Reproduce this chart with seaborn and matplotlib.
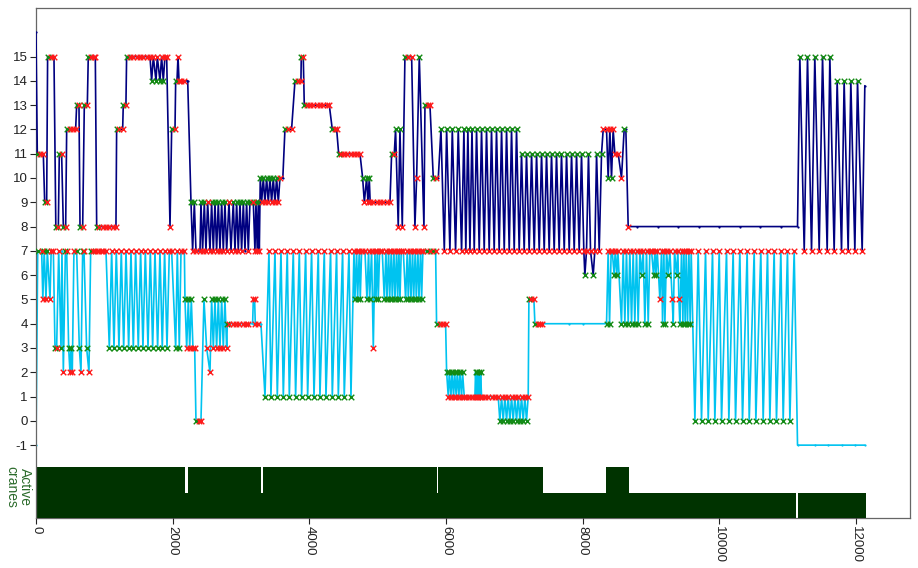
import matplotlib
matplotlib.use("Agg")
import matplotlib.pyplot as plt
import seaborn as sns

# upper crane (navy): time [s], position, marker per point (g = pick-up, r = drop, - = none)
up_t = [0, 19, 60, 107, 127, 156, 170, 215, 263,
        290, 327, 341, 375, 400, 434, 449, 497, 536, 580,
        595, 629, 644, 683, 707, 751, 765, 800, 843, 868,
        888, 926, 975, 1024, 1072, 1121, 1170, 1180, 1219, 1268,
        1277, 1316, 1326, 1375, 1424, 1473, 1521, 1570, 1619, 1668,
        1692, 1717, 1756, 1775, 1814, 1838, 1863, 1887, 1912, 1961,
        1985, 2034, 2044, 2063, 2078, 2093, 2122, 2171, 2220, 2268,
        2292, 2317, 2341, 2400, 2414, 2438, 2463, 2487, 2512, 2546,
        2570, 2595, 2619, 2643, 2668, 2692, 2717, 2741, 2765, 2790,
        2824, 2853, 2887, 2912, 2936, 2960, 2985, 3009, 3034, 3058,
        3082, 3107, 3131, 3180, 3204, 3219, 3238, 3253, 3268, 3282,
        3302, 3326, 3350, 3375, 3399, 3424, 3448, 3472, 3497, 3521,
        3546, 3570, 3612, 3643, 3692, 3740, 3790, 3838, 3877, 3882,
        3911, 3926, 3960, 4009, 4058, 4107, 4155, 4204, 4253, 4292,
        4336, 4375, 4400, 4429, 4458, 4507, 4556, 4604, 4653, 4702,
        4741, 4780, 4805, 4838, 4858, 4877, 4890, 4936, 4984, 5033,
        5082, 5131, 5180, 5204, 5243, 5262, 5301, 5326, 5360, 5399,
        5448, 5497, 5545, 5570, 5609, 5677, 5692, 5731, 5765, 5814,
        5848, 5887, 5926, 5975, 6009, 6057, 6092, 6140, 6179, 6228,
        6262, 6290, 6320, 6350, 6380, 6413, 6447, 6486, 6520, 6559,
        6593, 6632, 6666, 6705, 6739, 6778, 6813, 6852, 6886, 6925,
        6959, 6998, 7032, 7071, 7105, 7144, 7178, 7217, 7252, 7291,
        7325, 7364, 7398, 7437, 7471, 7510, 7544, 7583, 7617, 7656,
        7690, 7730, 7764, 7803, 7837, 7876, 7910, 7949, 7983, 8017,
        8032, 8056, 8085, 8115, 8154, 8178, 8203, 8242, 8276, 8300,
        8349, 8373, 8398, 8422, 8446, 8471, 8520, 8568, 8607, 8632,
        8666, 8800, 9100, 9400, 9700, 10000, 10300, 10600, 10900, 11144,
        11178, 11242, 11290, 11349, 11397, 11461, 11510, 11578, 11617, 11680,
        11724, 11788, 11826, 11885, 11924, 11983, 12022, 12090, 12129]
up_y = [16, 11, 11, 11, 9, 9, 15, 15, 15,
        8, 8, 11, 11, 8, 8, 12, 12, 12, 12,
        13, 13, 8, 8, 13, 13, 15, 15, 15, 15,
        8, 8, 8, 8, 8, 8, 8, 12, 12, 12,
        13, 13, 15, 15, 15, 15, 15, 15, 15, 15,
        14, 15, 14, 15, 14, 15, 14, 15, 15, 8,
        12, 12, 14, 14, 15, 14, 14, 14, 14, 9,
        7, 9, 7, 7, 9, 7, 9, 7, 9, 7,
        9, 7, 9, 7, 9, 7, 9, 7, 9, 7,
        9, 7, 9, 7, 9, 7, 9, 7, 9, 7,
        9, 7, 9, 9, 7, 9, 7, 9, 7, 10,
        9, 10, 9, 10, 9, 10, 9, 10, 9, 10,
        9, 10, 10, 12, 12, 12, 14, 14, 14, 15,
        15, 13, 13, 13, 13, 13, 13, 13, 13, 13,
        12, 12, 12, 11, 11, 11, 11, 11, 11, 11,
        11, 10, 9, 10, 9, 10, 9, 9, 9, 9,
        9, 9, 9, 11, 11, 12, 8, 12, 8, 15,
        15, 15, 8, 10, 15, 8, 13, 13, 13, 10,
        10, 10, 12, 7, 12, 7, 12, 7, 12, 7,
        12, 7, 12, 7, 12, 7, 12, 7, 12, 7,
        12, 7, 12, 7, 12, 7, 12, 7, 12, 7,
        12, 7, 12, 7, 11, 7, 11, 7, 11, 7,
        11, 7, 11, 7, 11, 7, 11, 7, 11, 7,
        11, 7, 11, 7, 11, 7, 11, 7, 11, 7,
        6, 7, 11, 7, 6, 7, 11, 7, 11, 12,
        12, 10, 12, 10, 12, 11, 11, 10, 12, 12,
        8, 8, 8, 8, 8, 8, 8, 8, 8, 8,
        15, 7, 15, 7, 15, 7, 15, 7, 15, 7,
        14, 7, 14, 7, 14, 7, 14, 7, 13.8]
up_m = ("-grrgrgrr" "grgrgrgrrr" "grgrgrgrrr" "grrrrrrgrr" "grgrrrrrrr"
        "grgrgrgrrr" "grg-rrrr-g" "rgrrgrgrrr" "grgrgrgrgr" "rrgrgrgrg-"
        "grgrrgrgrg" "rgrgrgrgrg" "rr-grrgrrg" "rgrrrrrrrr" "grrgrrrrrr"
        "rgrgrgrrrr" "rrrgrgrgrg" "rrrrgrgrrg" "r-grgrgrgr" "grgrgrgrgr"
        "grgrgrgrgr" "grgrgrgrgr" "grgrgrgrgr" "grgrgrgrgr" "grgrgrgrgr"
        "rgrgrrrrg-" "r---------" "grgrgrgrgr" "grgrgrgr-")

# lower crane (cyan)
lo_t = [0, 25, 83, 100, 120, 146, 166, 205, 222, 254,
        278, 302, 332, 366, 380, 400, 430, 449, 478, 497,
        512, 531, 555, 595, 634, 658, 683, 702, 741, 775,
        800, 829, 868, 907, 946, 985, 1024, 1073, 1107, 1141,
        1175, 1214, 1248, 1283, 1317, 1356, 1390, 1424, 1458, 1497,
        1531, 1565, 1600, 1639, 1673, 1707, 1741, 1780, 1814, 1848,
        1882, 1917, 1951, 1985, 2044, 2068, 2097, 2122, 2171, 2180,
        2205, 2229, 2249, 2273, 2297, 2322, 2341, 2390, 2414, 2458,
        2497, 2546, 2570, 2595, 2619, 2643, 2668, 2692, 2717, 2741,
        2765, 2790, 2800, 2829, 2878, 2926, 2975, 3024, 3073, 3107,
        3170, 3180, 3199, 3209, 3243, 3292, 3351, 3409, 3438, 3497,
        3531, 3585, 3619, 3677, 3707, 3765, 3799, 3853, 3887, 3946,
        3975, 4033, 4068, 4131, 4155, 4219, 4243, 4311, 4336, 4399,
        4424, 4487, 4511, 4580, 4609, 4653, 4667, 4692, 4706, 4731,
        4745, 4765, 4814, 4843, 4867, 4882, 4911, 4936, 4960, 4975,
        4994, 5009, 5028, 5067, 5097, 5121, 5136, 5160, 5175, 5199,
        5214, 5238, 5253, 5277, 5292, 5311, 5326, 5345, 5375, 5409,
        5433, 5448, 5472, 5487, 5511, 5526, 5550, 5565, 5589, 5604,
        5628, 5643, 5662, 5716, 5765, 5814, 5848, 5862, 5911, 5960,
        5994, 6009, 6033, 6048, 6072, 6087, 6111, 6126, 6150, 6164,
        6189, 6203, 6228, 6242, 6267, 6286, 6335, 6384, 6423, 6432,
        6447, 6457, 6471, 6481, 6496, 6506, 6520, 6569, 6618, 6666,
        6715, 6764, 6788, 6813, 6837, 6862, 6886, 6910, 6935, 6959,
        6983, 7008, 7032, 7057, 7081, 7105, 7130, 7154, 7178, 7203,
        7213, 7242, 7286, 7301, 7340, 7374, 7398, 7800, 8010, 8349,
        8373, 8393, 8417, 8432, 8461, 8476, 8500, 8515, 8568, 8593,
        8617, 8641, 8666, 8690, 8715, 8739, 8763, 8788, 8812, 8837,
        8861, 8886, 8910, 8934, 8959, 8983, 9008, 9037, 9057, 9071,
        9091, 9130, 9154, 9169, 9188, 9203, 9227, 9252, 9276, 9310,
        9325, 9344, 9373, 9393, 9408, 9422, 9447, 9466, 9481, 9500,
        9515, 9534, 9554, 9573, 9588, 9642, 9690, 9739, 9798, 9837,
        9900, 9934, 9998, 10032, 10105, 10139, 10202, 10237, 10300, 10339,
        10407, 10437, 10510, 10534, 10607, 10641, 10705, 10739, 10802, 10836,
        10900, 10934, 10997, 11032, 11095, 11144, 11397, 11593, 11788, 11983,
        12129]
lo_y = [-1, 7, 7, 5, 7, 5, 7, 5, 7, 7,
        3, 3, 7, 3, 7, 2, 7, 7, 3, 2,
        3, 2, 7, 7, 3, 2, 7, 7, 3, 2,
        7, 7, 7, 7, 7, 7, 7, 3, 7, 3,
        7, 3, 7, 3, 7, 3, 7, 3, 7, 3,
        7, 3, 7, 3, 7, 3, 7, 3, 7, 3,
        7, 3, 7, 7, 3, 7, 3, 7, 7, 5,
        3, 5, 3, 5, 3, 3, 0, 0, 0, 5,
        3, 2, 5, 3, 5, 3, 5, 3, 5, 3,
        5, 3, 4, 4, 4, 4, 4, 4, 4, 4,
        4, 5, 5, 4, 4, 4, 1, 7, 1, 7,
        1, 7, 1, 7, 1, 7, 1, 7, 1, 7,
        1, 7, 1, 7, 1, 7, 1, 7, 1, 7,
        1, 7, 1, 7, 1, 7, 5, 7, 5, 7,
        5, 7, 7, 5, 7, 5, 7, 3, 7, 5,
        7, 5, 7, 7, 5, 7, 5, 7, 5, 7,
        5, 7, 5, 7, 5, 7, 5, 7, 7, 5,
        7, 5, 7, 5, 7, 5, 7, 5, 7, 5,
        7, 5, 7, 7, 7, 7, 7, 4, 4, 4,
        4, 2, 1, 2, 1, 2, 1, 2, 1, 2,
        1, 2, 1, 2, 1, 1, 1, 1, 1, 2,
        1, 2, 1, 2, 1, 2, 1, 1, 1, 1,
        1, 1, 0, 1, 0, 1, 0, 1, 0, 1,
        0, 1, 0, 1, 0, 1, 0, 1, 0, 1,
        5, 5, 5, 4, 4, 4, 4, 4, 4, 4,
        7, 4, 7, 7, 6, 7, 6, 7, 4, 7,
        4, 7, 4, 7, 4, 7, 4, 7, 4, 7,
        6, 7, 4, 7, 4, 7, 7, 6, 7, 6,
        7, 5, 7, 4, 7, 4, 7, 6, 7, 5,
        4, 7, 6, 7, 5, 4, 7, 4, 7, 4,
        7, 4, 7, 4, 7, 0, 7, 0, 7, 0,
        7, 0, 7, 0, 7, 0, 7, 0, 7, 0,
        7, 0, 7, 0, 7, 0, 7, 0, 7, 0,
        7, 0, 7, 0, 7, -1, -1, -1, -1, -1,
        -1]
lo_m = ("-grrgrgrrr" "grrg-rgrgr" "grrggrgrgr" "grrrrrrgrg" "rgrgrgrgrg"
        "rgrgrgrgrg" "rgrrgrgrrg" "rgrgrrgrrg" "rrgrgrgrgr" "grgrrrrrrr"
        "-rrrr-grgr" "grgrgrgrgr" "grgrgrgrgr" "grgrgrgrgr" "grrgrgrrrg"
        "rgrrgrgrgr" "grgrgrgrrg" "rgrgrgrgrg" "rgrgrgrgrr" "rgrgrgrgrg"
        "rgrgrrrrrg" "rgrgrgrrrr" "rrgrgrgrgr" "grgrgrgrgr" "grrgrrr--g"
        "rgrrgrgrgr" "grgrgrgrgr" "grgrgrrgrg" "rrrgrgrgrr" "grgrrgrgrg"
        "rgrgrgrgrg" "rgrgrgrgrg" "rgrgrgrgrg" "rgrgr-----" "-")

# number of active cranes (step, starting at each time)
bar_t = [0, 2180, 2220, 3290, 3320, 5865, 5890, 7420, 8340, 8680, 11120, 11150, 12140]
bar_n = [2, 1, 2, 1, 2, 1, 2, 1, 2, 1, 0, 1, 0]

y_ticks = list(range(-1, 16))
x_ticks = [0, 2000, 4000, 6000, 8000, 10000, 12000]

assert len(up_t) == len(up_y) == len(up_m)
assert len(lo_t) == len(lo_y) == len(lo_m)

sns.set_style("white")
plt.rcParams["font.family"] = ["Liberation Sans", "DejaVu Sans"]

fig = plt.figure(figsize=(9.18, 5.68), dpi=100)
ax = fig.add_axes([36 / 918, 50 / 568, 874 / 918, 510 / 568])

# active cranes band at the bottom
band_base, band_step = -4.0, 1.05
ax.fill_between(bar_t, band_base, [band_base + band_step * n for n in bar_n],
                step="post", color="#003300", lw=0, zorder=1)

line_kw = dict(sort=False, estimator=None, lw=1.2, marker="o",
               markersize=1.6, markeredgewidth=0, ax=ax, legend=False)
sns.lineplot(x=lo_t, y=lo_y, color="#00c3f0", zorder=2, **line_kw)
sns.lineplot(x=up_t, y=up_y, color="#000080", zorder=3, **line_kw)

for ts, ys, ms in [(lo_t, lo_y, lo_m), (up_t, up_y, up_m)]:
    for code, col in [("g", "#138a13"), ("r", "#ff1a1a")]:
        px = [t for t, m in zip(ts, ms) if m == code]
        py = [y for y, m in zip(ys, ms) if m == code]
        sns.scatterplot(x=px, y=py, marker="x", color=col, s=16,
                        linewidth=1.0, ax=ax, zorder=4, legend=False)

ax.set_xlim(0, 12790)
ax.set_ylim(-4.0, 17.0)
ax.set_yticks(y_ticks)
ax.set_yticklabels([str(v) for v in y_ticks])
ax.set_xticks(x_ticks)
ax.set_xticklabels([str(v) for v in x_ticks], rotation=-90)
ax.tick_params(axis="both", labelsize=9.5, colors="#222222", length=4,
               width=0.8, direction="out", pad=2)
ax.tick_params(axis="both", left=True, bottom=True)
for side in ["left", "right", "top", "bottom"]:
    ax.spines[side].set_color("#666666")
    ax.spines[side].set_linewidth(0.9)
ax.spines["bottom"].set_zorder(0)
ax.set_xlabel("")
ax.set_ylabel("")

fig.text(18 / 918, 1 - 487 / 568, "Active\ncranes", rotation=-90,
         ha="center", va="center", color="#2b6b2b", fontsize=10, linespacing=1.0)

fig.savefig("out.png", dpi=100)
